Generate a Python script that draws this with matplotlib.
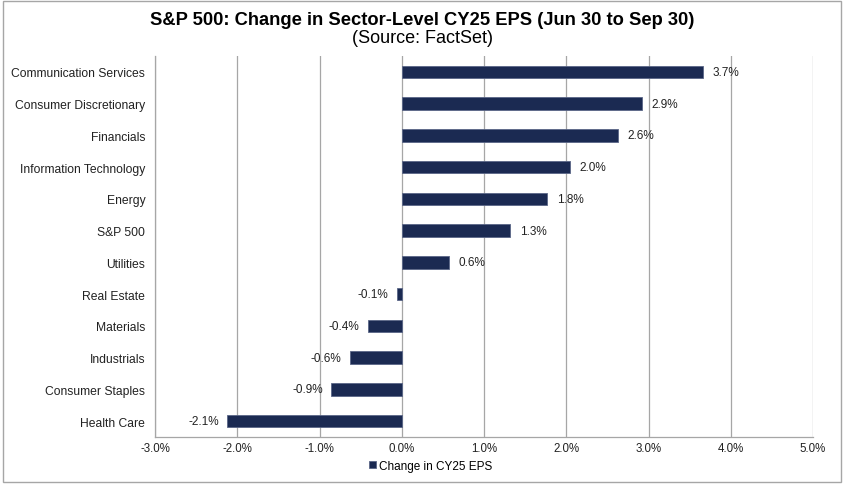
import matplotlib.pyplot as plt
from matplotlib.patches import Rectangle

# data (top to bottom)
sectors = ['Communication Services', 'Consumer Discretionary', 'Financials',
           'Information Technology', 'Energy', 'S&P 500', 'Utilities',
           'Real Estate', 'Materials', 'Industrials', 'Consumer Staples',
           'Health Care']
change = [3.66, 2.92, 2.63, 2.04, 1.77, 1.32, 0.57, -0.06, -0.41, -0.63, -0.86, -2.12]
labels = ['3.7%', '2.9%', '2.6%', '2.0%', '1.8%', '1.3%', '0.6%',
          '-0.1%', '-0.4%', '-0.6%', '-0.9%', '-2.1%']
xticks = [-3, -2, -1, 0, 1, 2, 3, 4, 5]

navy = '#1b2a52'
grey = '#a6a6a6'
plt.rcParams['font.family'] = ['Liberation Sans', 'DejaVu Sans']

fig = plt.figure(figsize=(8.44, 4.85), dpi=100)
ax = fig.add_axes([0.1837, 0.0969, 0.7796, 0.7856])

pos = list(range(len(sectors)))[::-1]
ax.barh(pos, change, height=0.4, color=navy, edgecolor='#5a6687', linewidth=0.6,
        label='Change in CY25 EPS', zorder=3)

for p, v, t in zip(pos, change, labels):
    if v >= 0:
        ax.annotate(t, (v, p), xytext=(7, 0), textcoords='offset points',
                    ha='left', va='center', fontsize=8.5, color='#222222', zorder=4)
    else:
        ax.annotate(t, (v, p), xytext=(-6, 0), textcoords='offset points',
                    ha='right', va='center', fontsize=8.5, color='#222222', zorder=4)

ax.set_xlim(-3, 5)
ax.set_ylim(-0.5, len(sectors) - 0.5)
ax.set_xticks(xticks)
ax.set_xticklabels([f'{x:.1f}%' for x in xticks], fontsize=8.3, color='#222222')
ax.set_yticks(pos)
ax.set_yticklabels(sectors, fontsize=8.7, color='#222222')
ax.tick_params(axis='x', length=0, pad=3.5)
ax.tick_params(axis='y', length=0, pad=7)
ax.grid(axis='x', color=grey, linewidth=0.9, zorder=0)
for s in ['top', 'right']:
    ax.spines[s].set_visible(False)
for s in ['left', 'bottom']:
    ax.spines[s].set_color(grey)
    ax.spines[s].set_linewidth(0.9)

fig.text(0.5, 0.957, 'S&P 500: Change in Sector-Level CY25 EPS (Jun 30 to Sep 30)',
         ha='center', va='center', fontsize=13.2, fontweight='bold')
fig.text(0.5, 0.92, '(Source: FactSet)', ha='center', va='center', fontsize=13)

fig.legend(loc='center', bbox_to_anchor=(0.51, 0.038), frameon=False, fontsize=8.5,
           handlelength=0.6, handleheight=0.6, handletextpad=0.3)

fig.patches.append(Rectangle((0.003, 0.005), 0.994, 0.99, transform=fig.transFigure,
                             fill=False, edgecolor=grey, linewidth=1))

fig.savefig('out.png', dpi=100)
